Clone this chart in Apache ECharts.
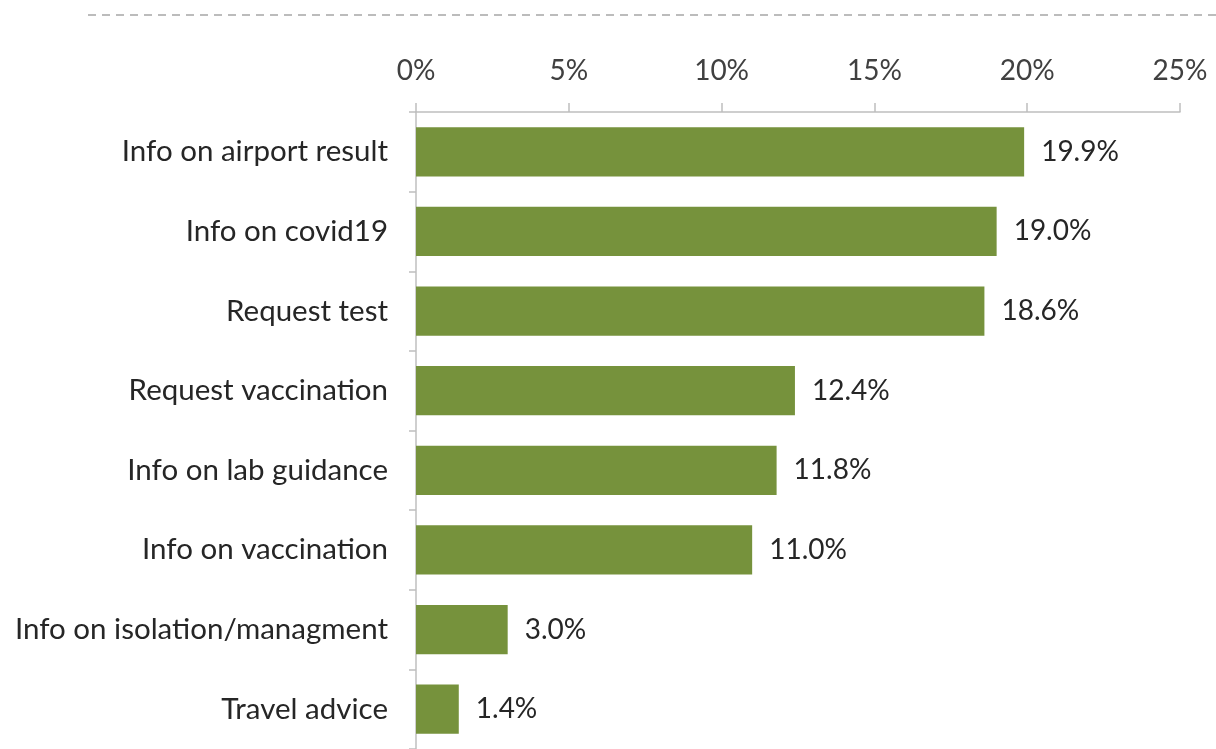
<!DOCTYPE html>
<html>
<head>
<meta charset="utf-8">
<script src="https://cdn.jsdelivr.net/npm/echarts@6/dist/echarts.min.js"></script>
<style>html,body{margin:0;padding:0;background:#fff}#c{width:1216px;height:749px}</style>
</head>
<body>
<div id="c"></div>
<script>
const categories = ["Info on airport result","Info on covid19","Request test","Request vaccination","Info on lab guidance","Info on vaccination","Info on isolation/managment","Travel advice"];
const values = [19.9, 19.0, 18.6, 12.4, 11.8, 11.0, 3.0, 1.4];
const xTicks = [0, 5, 10, 15, 20, 25];

const chart = echarts.init(document.getElementById('c'));
const font = 'Lato, "Open Sans", sans-serif';
chart.setOption({
  animation: false,
  grid: {left: 416, right: 36, top: 112, bottom: -5, containLabel: false},
  graphic: [{
    type: 'line', shape: {x1: 88, y1: 15, x2: 1216, y2: 15},
    style: {stroke: '#a6a6a6', lineWidth: 1.5, lineDash: [8, 6]}
  }],
  xAxis: {
    type: 'value', position: 'top', min: xTicks[0], max: xTicks[xTicks.length-1], interval: 5,
    axisLine: {show: true, lineStyle: {color: '#bfbfbf', width: 1.5}},
    axisTick: {show: true, length: 9, lineStyle: {color: '#bfbfbf', width: 1.5}},
    splitLine: {show: false},
    axisLabel: {formatter: '{value}%', color: '#404040', fontSize: 28, fontFamily: font, margin: 27}
  },
  yAxis: {
    type: 'category', inverse: true, data: categories,
    axisLine: {show: true, lineStyle: {color: '#bfbfbf', width: 1.5}},
    axisTick: {show: true, length: 7, lineStyle: {color: '#bfbfbf', width: 1.5}},
    axisLabel: {color: '#262626', fontSize: 29.5, fontFamily: font, margin: 28}
  },
  series: [{
    type: 'bar', data: values, barCategoryGap: '38%',
    itemStyle: {color: '#76923c'},
    label: {show: true, position: 'right', distance: 17, formatter: p => p.value.toFixed(1) + '%',
      color: '#262626', fontSize: 28, fontFamily: font}
  }]
});
</script>
</body>
</html>
